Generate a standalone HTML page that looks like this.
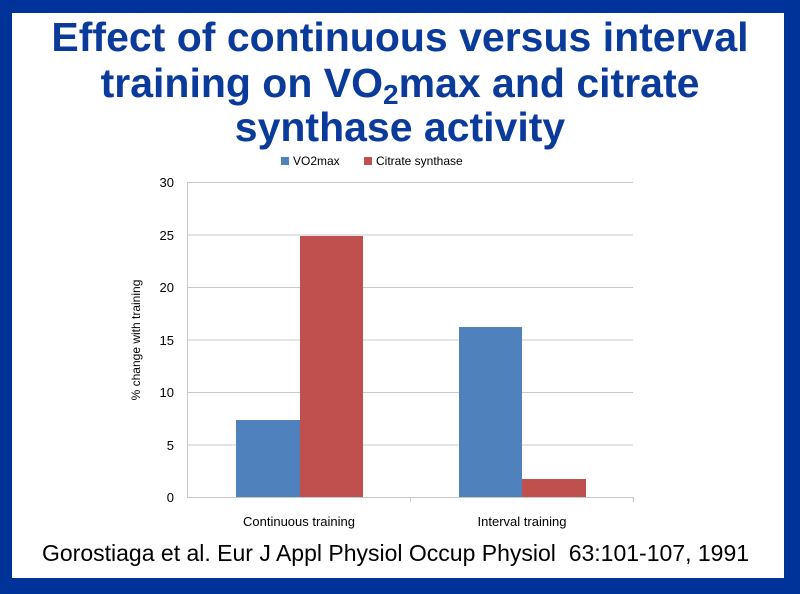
<!DOCTYPE html>
<html><head><style>
body{margin:0;width:800px;height:594px;overflow:hidden;background:#003399;}
.frame{position:absolute;left:12px;top:13px;width:772px;height:565px;background:#fff;}
.t{position:absolute;left:0;width:800px;text-align:center;font-family:"Liberation Sans",sans-serif;font-weight:bold;font-size:41px;line-height:47px;color:#0a3a9a;white-space:nowrap;}
.t sub{font-size:28px;position:relative;top:-2px;vertical-align:baseline;line-height:0;display:inline-block;transform:translateY(9px);}
.cite{position:absolute;left:42px;top:540px;font-family:"Liberation Sans",sans-serif;font-size:23px;color:#000;white-space:pre;}
</style></head><body>
<div class="frame"></div>
<div class="t" style="top:14px">Effect of continuous versus interval</div>
<div class="t" style="top:60px">training on VO<sub>2</sub>max and citrate</div>
<div class="t" style="top:104px">synthase activity</div>
<svg width="800" height="594" style="position:absolute;left:0;top:0" font-family="Liberation Sans, sans-serif">
<g stroke="#c8c8c8" stroke-width="1">
<line x1="187" y1="182.5" x2="633" y2="182.5"/>
<line x1="187" y1="235" x2="633" y2="235"/>
<line x1="187" y1="287.5" x2="633" y2="287.5"/>
<line x1="187" y1="340" x2="633" y2="340"/>
<line x1="187" y1="392.5" x2="633" y2="392.5"/>
<line x1="187" y1="445" x2="633" y2="445"/>
<line x1="187" y1="497.5" x2="633" y2="497.5"/>
<line x1="187.5" y1="182" x2="187.5" y2="498"/>
<line x1="410.5" y1="497" x2="410.5" y2="502"/>
<line x1="633.5" y1="497" x2="633.5" y2="502"/>
</g>
<rect x="236" y="420" width="64" height="77" fill="#4f81bd"/>
<rect x="300" y="236" width="63" height="261" fill="#c0504d"/>
<rect x="459" y="327" width="63" height="170" fill="#4f81bd"/>
<rect x="522" y="479" width="64" height="18" fill="#c0504d"/>
<g font-size="13" fill="#000" text-anchor="end">
<text x="174" y="187">30</text><text x="174" y="240">25</text><text x="174" y="292">20</text>
<text x="174" y="345">15</text><text x="174" y="397">10</text><text x="174" y="450">5</text><text x="174" y="502">0</text>
</g>
<text transform="translate(140,340) rotate(-90)" font-size="12" text-anchor="middle">% change with training</text>
<text x="299" y="526" font-size="13" text-anchor="middle">Continuous training</text>
<text x="522" y="526" font-size="13" text-anchor="middle">Interval training</text>
<rect x="281" y="157" width="8" height="8" fill="#4f81bd"/>
<text x="293" y="165" font-size="12">VO2max</text>
<rect x="364" y="157" width="8" height="8" fill="#c0504d"/>
<text x="376" y="165" font-size="12">Citrate synthase</text>
</svg>
<div class="cite">Gorostiaga et al. Eur J Appl Physiol Occup Physiol  63:101-107, 1991</div>
</body></html>
